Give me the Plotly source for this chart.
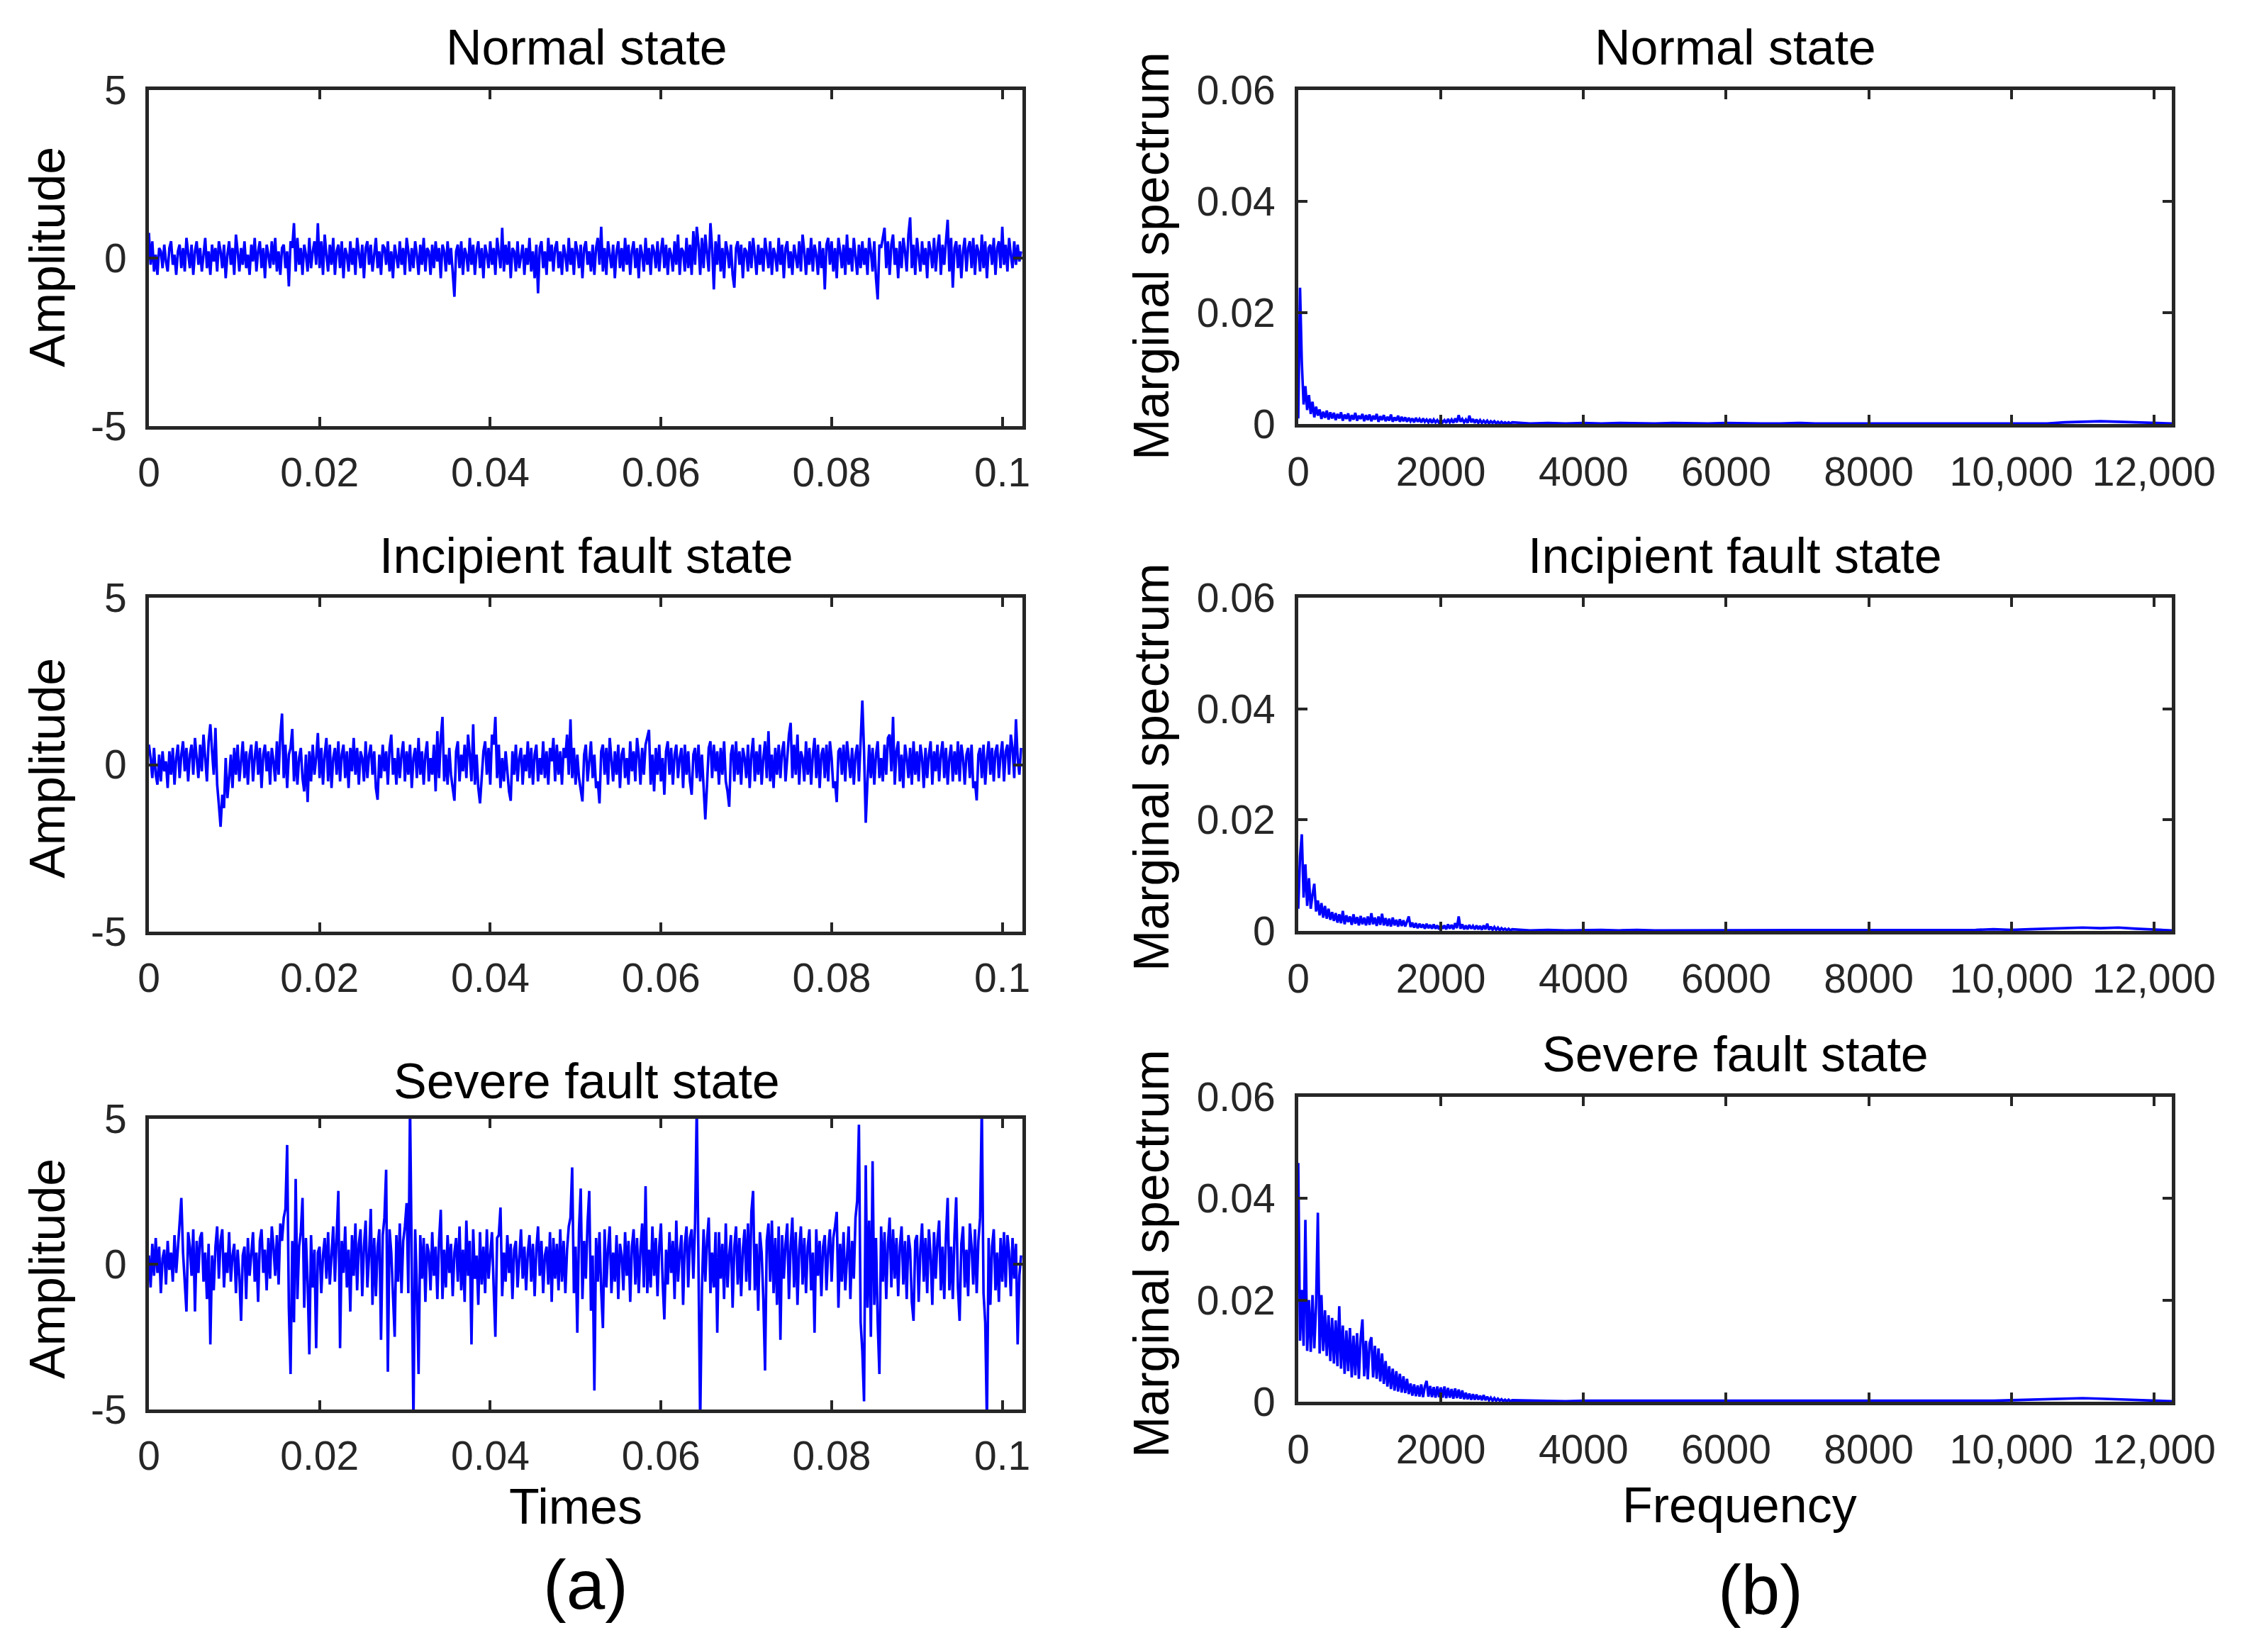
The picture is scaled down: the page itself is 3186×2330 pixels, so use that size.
import numpy as np
import plotly.graph_objects as go

# ---------------- data ----------------
DT = 0.0002           # sample spacing of the time signals (s)
DF_LOW = 25           # spectrum bin spacing below 3000 Hz
DF_HIGH = 250         # spectrum bin spacing above 3000 Hz
F_SPLIT = 3000

normal_signal = [
    0.75,-0.2,0.5,-0.4,0.1,-0.5,0.3,0.2,-0.3,0.4,-0.1,-0.4,0.3,0.5,-0.2,0.1,-0.5,0.2,0.4,-0.3,
    0.3,-0.4,0.6,0.1,-0.3,0.4,-0.5,0.2,0.5,-0.2,0.3,-0.4,0.1,0.6,-0.3,0.2,-0.5,0.4,-0.1,0.3,
    -0.4,0.5,0.2,-0.3,0.4,-0.6,0.1,0.5,-0.2,0.3,-0.5,0.7,0.2,-0.4,0.3,-0.2,0.5,-0.3,0.1,-0.5,
    0.4,-0.1,0.6,-0.4,0.2,0.5,-0.3,0.3,-0.6,0.4,0.1,-0.3,0.5,-0.2,0.6,-0.4,0.2,-0.5,0.3,0.4,
    -0.3,0.2,-0.84,0.5,0.3,1.04,-0.4,0.6,-0.2,0.3,-0.5,0.4,0.1,-0.4,0.6,-0.3,0.2,0.5,-0.2,1.04,
    -0.3,0.5,-0.5,0.7,0.1,-0.4,0.4,-0.2,0.6,-0.5,0.2,0.4,-0.3,0.5,-0.6,0.3,0.1,-0.4,0.5,-0.2,
    0.3,-0.5,0.6,0.2,-0.3,0.4,-0.6,0.3,0.5,-0.2,0.4,-0.4,0.1,0.6,-0.3,0.2,-0.5,0.4,0.3,-0.2,
    0.5,-0.4,0.2,-0.6,0.4,0.1,-0.3,0.5,-0.2,0.3,-0.5,0.6,0.2,-0.4,0.3,-0.3,0.5,0.1,-0.5,0.4,
    -0.2,0.6,-0.4,0.3,0.2,-0.5,0.4,-0.3,0.5,-0.1,0.3,-0.6,0.4,0.2,-0.4,0.5,-0.2,0.3,-0.5,-1.15,
    0.2,0.4,-0.3,0.5,-0.5,0.3,0.1,-0.4,0.6,-0.2,0.4,-0.5,0.2,0.5,-0.3,0.3,-0.6,0.4,0.1,-0.3,
    0.5,-0.2,0.3,-0.5,0.6,0.2,-0.3,0.9,-0.4,0.4,-0.2,0.5,-0.6,0.3,0.2,-0.4,0.5,-0.3,0.1,0.4,
    -0.5,0.3,-0.2,0.6,-0.4,0.2,-0.6,0.4,-1.05,0.3,0.5,-0.3,0.2,-0.5,0.6,-0.1,0.4,-0.4,0.3,0.5,
    -0.3,0.2,-0.5,0.4,0.1,-0.4,0.6,-0.2,0.3,-0.5,0.5,0.2,-0.3,0.4,-0.6,0.3,0.5,-0.2,0.2,-0.4,
    0.4,-0.5,0.3,0.6,-0.2,0.93,-0.4,0.3,-0.5,0.5,0.1,-0.3,0.4,-0.6,0.2,0.5,-0.3,0.3,-0.4,0.6,
    -0.2,0.4,-0.5,0.2,0.5,-0.3,0.3,-0.6,0.4,0.1,-0.4,0.6,-0.2,0.3,-0.5,0.4,0.2,-0.3,0.5,-0.4,
    0.2,0.6,-0.3,0.4,-0.5,0.3,0.1,-0.4,0.5,-0.2,0.7,-0.5,0.3,0.2,-0.4,0.6,-0.3,0.4,-0.5,0.8,
    -0.2,0.93,0.4,-0.5,0.6,-0.3,0.7,0.2,-0.4,1.04,0.3,-0.93,0.5,-0.2,0.7,-0.4,0.3,-0.6,0.5,0.2,
    -0.3,0.4,-0.5,-0.88,0.3,0.5,-0.2,0.4,-0.6,0.3,0.2,-0.4,0.5,-0.3,0.6,0.1,-0.5,0.4,-0.2,0.3,
    -0.4,0.6,0.2,-0.3,0.5,-0.5,0.3,0.1,-0.4,0.6,-0.2,0.4,-0.6,0.3,0.5,-0.3,0.2,-0.5,0.4,0.1,
    -0.3,0.5,-0.4,0.7,0.2,-0.5,0.3,-0.2,0.6,-0.4,0.4,0.1,-0.5,0.5,-0.3,0.3,-0.93,0.4,0.6,-0.2,
    0.5,-0.4,0.3,-0.6,0.6,0.2,-0.3,0.4,-0.5,0.7,-0.2,0.3,-0.4,0.6,0.1,-0.5,0.4,-0.3,0.5,-0.2,
    0.3,-0.5,0.6,0.2,-0.4,0.5,-0.6,-1.23,0.4,0.3,0.6,0.9,-0.3,0.5,-0.5,0.4,0.7,-0.2,0.3,-0.6,
    0.5,-0.3,0.6,0.2,-0.4,0.7,1.21,-0.3,0.4,-0.5,0.6,0.1,-0.4,0.5,-0.2,0.3,-0.6,0.5,0.2,-0.3,
    0.6,-0.4,0.3,0.7,-0.5,0.4,-0.2,0.5,1.14,-0.4,0.6,-0.88,0.3,0.5,-0.3,0.4,-0.6,0.2,0.6,-0.4,
    0.3,0.5,-0.3,0.6,-0.5,0.4,0.2,-0.4,0.7,-0.3,0.5,-0.6,0.3,0.4,-0.2,0.6,-0.5,0.3,0.5,-0.3,
    0.93,-0.2,0.4,-0.4,0.6,0.1,-0.3,0.5,-0.2,0.4,-0.1,0.2,
]

incipient_signal = [
    0.6,0.2,-0.4,0.5,-0.3,-0.6,0.3,-0.5,0.4,-0.2,0.1,-0.7,0.4,-0.3,0.5,-0.6,0.2,0.6,-0.4,0.3,
    0.7,-0.2,0.5,-0.5,0.3,0.6,-0.3,0.8,0.2,-0.4,0.6,-0.2,0.9,0.3,-0.5,0.7,1.21,0.4,-0.3,1.1,
    -0.6,-1.2,-1.86,-0.9,-1.3,0.2,-1.0,-0.4,0.3,-0.7,0.5,-0.3,0.6,-0.5,0.2,0.7,-0.4,0.4,-0.6,0.3,
    0.6,-0.5,0.2,0.7,-0.3,0.5,-0.7,0.3,0.6,-0.2,0.4,-0.6,0.5,0.1,-0.5,0.7,-0.3,0.9,1.53,-0.4,
    0.6,-0.7,0.3,0.5,1.07,-0.5,0.4,-0.6,0.2,0.5,-0.4,-0.8,0.3,-1.12,0.4,-0.5,0.6,-0.3,0.2,0.95,
    -0.4,0.5,-0.6,0.3,0.8,-0.5,0.6,-0.7,0.2,0.5,-0.3,0.7,-0.5,0.3,0.6,-0.4,0.4,-0.7,0.5,-0.2,
    0.8,-0.3,0.5,-0.6,0.4,0.2,-0.5,0.7,-0.4,0.3,0.6,-0.3,0.4,-0.7,-1.05,0.3,-0.4,0.6,-0.2,0.4,
    -0.6,0.5,0.9,-0.3,0.2,-0.6,0.5,-0.4,0.3,0.7,-0.5,0.4,-0.3,0.6,-0.7,0.2,0.5,-0.4,0.8,-0.3,
    0.4,-0.6,0.3,0.7,-0.5,0.2,-0.3,0.6,-0.8,1.0,-0.4,0.8,1.43,-0.5,0.3,-0.6,0.5,-0.3,-0.7,-1.08,
    0.4,0.7,-0.5,0.3,-0.2,0.6,-0.4,0.9,0.3,-0.5,1.21,-0.6,0.3,-0.7,-1.16,-0.5,0.4,0.7,-0.3,0.5,
    -0.6,0.9,0.6,1.43,-0.4,0.6,-0.7,0.2,-0.5,0.4,-0.3,-0.8,-1.08,0.4,-0.3,0.6,-0.5,0.2,0.5,-0.6,
    0.3,-0.2,0.7,-0.4,0.5,-0.6,0.3,0.6,-0.5,0.2,-0.3,0.7,-0.4,0.4,-0.6,0.5,0.1,0.8,-0.5,0.6,
    -0.3,0.4,-0.6,0.5,0.2,0.9,-0.3,1.36,-0.4,0.5,-0.6,0.3,-0.4,-0.7,-1.1,0.3,0.6,-0.5,0.2,0.7,
    -0.4,0.3,-0.7,-0.5,-1.16,0.4,0.6,-0.3,0.5,-0.6,0.8,0.2,-0.5,0.4,-0.3,0.6,-0.7,0.3,0.5,-0.4,
    0.2,-0.6,0.7,-0.2,0.4,-0.5,0.8,0.3,-0.6,0.5,-0.3,0.6,0.8,1.04,-0.6,0.3,-0.8,0.5,-0.3,0.6,
    -0.5,0.2,-0.9,0.4,0.7,-0.3,0.5,-0.6,0.3,0.6,-0.4,0.2,0.5,-0.7,0.6,-0.3,0.4,-0.5,-0.9,0.3,
    0.5,-0.4,0.6,-0.5,0.3,-0.8,-1.64,-0.6,0.5,0.7,-0.4,0.6,-0.2,0.4,-0.6,0.5,-0.3,0.7,-0.5,-0.8,
    -1.26,0.3,0.6,-0.5,0.7,-0.3,0.4,-0.6,0.5,0.2,-0.4,0.6,-0.7,0.3,0.8,-0.5,0.4,-0.3,0.6,-0.6,
    0.2,0.7,-0.4,1.0,-0.5,0.3,-0.7,0.5,-0.3,0.6,-0.4,0.4,0.7,-0.5,0.3,0.9,1.25,-0.4,0.6,-0.3,
    0.9,-0.6,0.4,0.2,-0.5,0.7,-0.3,0.5,-0.6,0.3,0.8,-0.4,0.6,-0.7,0.3,0.5,-0.4,0.6,-0.5,0.7,
    0.2,-0.7,-0.5,-1.12,0.4,0.5,-0.3,0.6,-0.5,0.7,0.2,-0.4,0.5,-0.6,0.3,0.6,-0.5,0.9,1.92,0.4,
    -1.74,-0.5,0.6,-0.4,0.5,-0.6,0.3,0.7,-0.4,0.2,-0.5,0.6,-0.3,0.8,0.9,-0.2,1.43,-0.6,0.4,0.7,
    -0.5,0.3,-0.7,0.6,0.2,-0.4,0.5,-0.6,0.7,-0.3,0.4,-0.5,0.6,0.2,-0.7,0.5,-0.4,0.3,0.7,-0.6,
    0.4,-0.2,0.6,-0.5,0.3,0.7,-0.4,0.5,-0.6,0.2,0.6,-0.5,0.4,-0.3,0.7,-0.5,0.6,0.2,-0.6,0.3,
    0.5,-0.4,0.6,-0.7,-0.5,-1.07,0.3,0.5,-0.4,0.6,-0.6,0.2,0.7,-0.3,0.5,-0.5,0.4,0.6,-0.4,0.3,
    0.7,-0.5,0.4,0.6,-0.3,0.9,0.5,-0.4,1.36,0.2,-0.3,0.5,
]

severe_signal = [
    0.3,-0.8,0.7,-0.4,0.9,-0.3,0.6,-1.0,0.2,0.5,-0.7,0.8,-0.2,0.4,-0.6,1.0,-0.3,0.6,1.2,2.28,
    0.4,-0.5,-1.63,1.1,0.6,-0.4,1.2,-1.63,0.8,-0.3,0.9,1.1,-0.6,0.4,-1.2,0.7,-2.76,0.3,-0.9,0.6,
    1.3,-0.5,0.8,1.2,-0.8,0.4,-0.3,1.1,-0.6,0.3,0.7,-1.0,0.5,-0.4,-1.95,0.3,0.6,-1.2,0.9,-0.4,
    0.5,1.1,-0.6,0.4,-1.3,0.8,1.2,-0.3,0.5,-0.9,0.9,-0.5,1.3,0.6,-0.4,1.0,-0.7,1.4,0.8,1.6,
    1.9,4.1,-1.5,-3.78,0.8,-2.0,2.93,-1.2,0.6,1.1,2.28,-1.5,0.9,-0.6,-3.1,1.0,-0.8,0.5,-2.89,0.4,
    0.6,-1.0,0.3,0.9,-0.5,1.1,-0.7,0.4,1.3,-0.6,0.9,2.52,-2.89,0.8,-0.3,1.3,-0.8,0.5,-1.63,1.0,
    -0.4,1.4,-0.9,0.7,1.2,-1.1,0.6,1.5,-0.8,0.3,1.9,-1.4,0.9,-1.1,0.6,1.2,-2.6,1.0,1.6,3.25,
    -3.7,1.2,0.4,-1.0,-2.5,1.0,-0.6,1.4,-1.0,0.8,1.3,2.1,-1.0,5.5,0.6,-5.5,1.2,-0.8,-3.78,1.0,
    -0.5,0.9,-1.3,0.7,0.4,-0.9,1.1,-0.4,0.6,-1.2,0.8,1.87,-1.2,0.5,-0.8,1.0,-0.3,0.7,-1.1,0.4,
    0.9,-0.6,1.3,-0.9,0.5,-1.3,1.5,-0.4,0.8,-2.76,1.2,-0.5,0.3,-1.4,1.1,-0.7,0.6,-1.0,1.2,-0.5,
    0.3,1.1,-0.8,-2.5,0.9,1.0,1.95,-1.1,0.4,-0.6,1.0,-0.3,0.7,-1.2,0.5,0.8,-0.8,0.3,1.2,-0.5,
    0.6,-0.9,0.4,1.0,-0.6,0.7,-1.1,0.5,1.3,-0.4,0.8,-1.0,0.3,0.6,-0.7,1.1,-1.3,0.9,-0.5,0.7,
    -0.9,1.2,-0.6,0.8,-1.0,0.5,1.3,1.6,3.33,-1.0,0.6,-2.36,1.2,2.6,-1.2,0.8,-0.5,1.4,2.52,-1.6,
    0.3,-4.35,0.9,-0.6,1.1,-0.9,-2.2,1.2,-0.8,0.5,1.3,-1.0,0.4,-0.6,1.0,-1.2,0.7,0.3,-0.9,1.1,
    -0.4,0.8,-1.3,0.6,1.2,-0.7,0.9,-1.0,0.5,1.4,-0.8,2.68,-1.0,0.5,-0.8,1.3,-0.4,0.9,-1.1,0.6,
    1.4,-0.6,-1.9,0.5,-0.7,1.1,-0.3,0.8,-1.2,1.5,-0.6,0.4,1.0,-1.4,0.7,1.3,-0.8,0.9,1.2,-0.5,
    1.4,5.5,-1.2,-5.5,-0.9,1.2,-0.6,0.8,1.6,-1.0,0.4,-0.8,1.1,-2.36,1.1,-0.5,0.7,-1.2,1.4,-0.8,
    0.3,1.0,-1.5,0.6,1.3,-0.7,0.9,-1.1,0.5,1.2,-0.6,1.4,-0.9,1.8,2.52,-0.9,0.7,-1.6,1.1,0.4,
    -1.2,-3.66,0.8,1.4,-0.6,1.5,-1.0,0.9,-1.4,1.3,-2.6,1.0,-0.5,0.7,1.4,-1.2,0.6,1.6,-0.8,1.1,
    -1.4,0.5,1.3,-0.7,0.9,-1.0,0.6,1.2,-0.9,0.4,-2.36,1.2,-0.4,0.8,-1.1,0.6,1.0,-0.9,0.5,1.2,
    -0.6,0.9,1.3,1.8,-1.5,0.7,-0.6,1.1,-0.9,0.4,1.3,-1.2,0.8,-0.5,1.6,2.2,4.8,-2.0,-3.0,-4.72,
    3.4,-1.5,1.5,-2.5,3.54,-1.4,0.9,-2.0,-3.78,1.3,-0.6,1.1,-1.2,0.7,1.6,-0.8,1.2,-0.5,0.9,-1.1,
    0.6,1.3,-0.7,0.8,-1.2,1.0,0.5,-1.3,-1.95,0.8,1.0,-1.3,0.5,1.4,-0.6,0.9,-1.0,1.2,0.3,-1.4,
    1.1,-0.5,0.8,1.5,-0.9,0.6,-1.2,1.0,2.28,-0.9,0.6,-1.2,1.0,2.3,-0.8,-1.95,0.7,1.3,-0.8,0.5,
    -1.1,1.4,0.6,-0.7,1.2,-1.0,0.8,1.6,5.5,-1.0,-2.0,-5.5,0.9,-1.4,0.6,1.2,-0.9,0.4,-1.3,0.9,
    -0.6,1.1,-0.8,1.0,0.4,-1.1,0.9,-0.5,0.7,-2.76,-0.4,0.3,
]

# marginal spectra: values on the 0..2975 Hz grid, then on the 3000..12250 Hz grid
normal_spec_low = [
    0.001,0.0245,0.011,0.0035,0.0068,0.0025,0.0052,0.0018,0.0040,0.0012,0.0031,0.0015,0.0026,0.0009,0.0022,0.0011,0.0024,0.0008,0.0021,0.0010,
    0.0020,0.0007,0.0018,0.0010,0.0021,0.0006,0.0017,0.0009,0.0019,0.0005,0.0016,0.0008,0.0020,0.0006,0.0015,0.0009,0.0018,0.0005,0.0016,0.0007,
    0.0017,0.0005,0.0015,0.0008,0.0018,0.0004,0.0014,0.0007,0.0016,0.0005,0.0013,0.0006,0.0017,0.0004,0.0012,0.0006,0.0015,0.0004,0.0013,0.0005,
    0.0012,0.0004,0.0011,0.0005,0.0010,0.0003,0.0011,0.0004,0.0009,0.0003,0.0010,0.0004,0.0008,0.0003,0.0009,0.0002,0.0008,0.0003,0.0007,0.0002,
    0.0008,0.0003,0.0007,0.0002,0.0009,0.0003,0.0008,0.0002,0.0010,0.0003,0.0016,0.0004,0.0009,0.0003,0.0008,0.0002,0.0015,0.0003,0.0009,0.0002,
    0.0008,0.0002,0.0007,0.0002,0.0006,0.0002,0.0006,0.0001,0.0005,0.0002,0.0005,0.0001,0.0004,0.0001,0.0004,0.0001,0.0003,0.0001,0.0003,0.0001,
]
normal_spec_high = [
    0.0003,0.0001,0.0002,0.0001,0.0002,0.0001,0.0002,0.0001,0.0001,0.0002,
    0.0001,0.0001,0.0002,0.0001,0.0001,0.0001,0.0002,0.0001,0.0001,0.0001,
    0.0002,0.0001,0.0001,0.0001,0.0001,0.0002,0.0001,0.0001,0.0001,0.0002,
    0.0001,0.0003,0.0004,0.0005,0.0004,0.0003,0.0002,0.0001,
]

incipient_spec_low = [
    0.004,0.0134,0.0174,0.0060,0.0120,0.0045,0.0095,0.0040,0.0065,0.0085,0.0035,0.0055,0.0028,0.0050,0.0024,0.0045,0.0022,0.0040,0.0020,0.0034,
    0.0018,0.0032,0.0015,0.0030,0.0014,0.0036,0.0012,0.0028,0.0016,0.0026,0.0011,0.0030,0.0013,0.0025,0.0010,0.0027,0.0012,0.0024,0.0010,0.0026,
    0.0011,0.0032,0.0012,0.0024,0.0009,0.0026,0.0011,0.0031,0.0010,0.0023,0.0009,0.0022,0.0008,0.0024,0.0010,0.0020,0.0008,0.0021,0.0009,0.0019,
    0.0008,0.0018,0.0026,0.0007,0.0015,0.0006,0.0014,0.0005,0.0013,0.0006,0.0012,0.0004,0.0013,0.0005,0.0011,0.0004,0.0012,0.0004,0.0010,0.0003,
    0.0011,0.0004,0.0010,0.0003,0.0012,0.0004,0.0011,0.0003,0.0014,0.0005,0.0026,0.0004,0.0012,0.0003,0.0010,0.0003,0.0011,0.0004,0.0009,0.0003,
    0.0010,0.0003,0.0009,0.0002,0.0010,0.0003,0.0013,0.0002,0.0008,0.0002,0.0007,0.0002,0.0006,0.0001,0.0005,0.0002,0.0004,0.0001,0.0004,0.0001,
]
incipient_spec_high = [
    0.0003,0.0001,0.0002,0.0001,0.0002,0.0002,0.0001,0.0002,0.0001,0.0001,
    0.0002,0.0001,0.0002,0.0001,0.0001,0.0002,0.0001,0.0001,0.0002,0.0001,
    0.0001,0.0002,0.0001,0.0001,0.0002,0.0001,0.0002,0.0003,0.0002,0.0003,
    0.0004,0.0005,0.0006,0.0005,0.0006,0.0004,0.0002,0.0001,
]

severe_spec_low = [
    0.047,0.012,0.022,0.011,0.0358,0.010,0.020,0.0098,0.021,0.0105,0.019,0.0372,0.0095,0.0210,0.0100,0.0180,0.0090,0.0170,0.0080,0.0165,
    0.0075,0.0160,0.0070,0.0188,0.0065,0.0150,0.0055,0.0140,0.0060,0.0145,0.0048,0.0130,0.0052,0.0135,0.0045,0.0125,0.0162,0.0050,0.0120,0.0044,
    0.0115,0.0127,0.0048,0.0110,0.0045,0.0105,0.0040,0.0095,0.0035,0.0080,0.0030,0.0070,0.0025,0.0065,0.0022,0.0060,0.0020,0.0055,0.0018,0.0050,
    0.0017,0.0045,0.0015,0.0036,0.0012,0.0034,0.0011,0.0032,0.0010,0.0034,0.0009,0.0030,0.0041,0.0010,0.0031,0.0009,0.0029,0.0008,0.0030,0.0009,
    0.0028,0.0008,0.0030,0.0007,0.0027,0.0008,0.0025,0.0006,0.0026,0.0007,0.0024,0.0006,0.0022,0.0005,0.0018,0.0005,0.0016,0.0004,0.0015,0.0004,
    0.0014,0.0004,0.0012,0.0003,0.0013,0.0003,0.0010,0.0003,0.0008,0.0002,0.0007,0.0002,0.0006,0.0002,0.0005,0.0001,0.0004,0.0001,0.0004,0.0001,
]
severe_spec_high = [
    0.0003,0.0002,0.0002,0.0001,0.0002,0.0002,0.0001,0.0002,0.0001,0.0002,
    0.0001,0.0001,0.0002,0.0001,0.0001,0.0002,0.0001,0.0001,0.0002,0.0001,
    0.0001,0.0002,0.0001,0.0001,0.0002,0.0001,0.0002,0.0002,0.0003,0.0004,
    0.0005,0.0006,0.0007,0.0006,0.0005,0.0004,0.0002,0.0001,
]

panel_titles = ["Normal state", "Incipient fault state", "Severe fault state"]
time_ticks = [0, 0.02, 0.04, 0.06, 0.08, 0.1]
time_tick_text = ["0", "0.02", "0.04", "0.06", "0.08", "0.1"]
amp_ticks = [-5, 0, 5]
amp_tick_text = ["-5", "0", "5"]
freq_ticks = [0, 2000, 4000, 6000, 8000, 10000, 12000]
freq_tick_text = ["0", "2000", "4000", "6000", "8000", "10,000", "12,000"]
spec_ticks = [0, 0.02, 0.04, 0.06]
spec_tick_text = ["0", "0.02", "0.04", "0.06"]

# ---------------- figure ----------------
W, H = 3186, 2330
FONT = "Liberation Sans, Arial, Helvetica, sans-serif"
INK = "#262626"
BLUE = "#0000FF"


def px_x(p):
    return p / W


def px_y(p):
    return 1 - p / H


signals = [normal_signal, incipient_signal, severe_signal]
spectra = [(normal_spec_low, normal_spec_high),
           (incipient_spec_low, incipient_spec_high),
           (severe_spec_low, severe_spec_high)]

fig = go.Figure()

for k, sig in enumerate(signals):
    t = np.arange(len(sig)) * DT
    fig.add_trace(go.Scatter(x=t, y=sig, mode="lines",
                             line=dict(color=BLUE, width=3.6),
                             xaxis=f"x{k+1}", yaxis=f"y{k+1}", showlegend=False,
                             hoverinfo="skip"))

for k, (lo, hi) in enumerate(spectra):
    f = np.concatenate([np.arange(len(lo)) * DF_LOW,
                        F_SPLIT + np.arange(len(hi)) * DF_HIGH])
    v = np.concatenate([lo, hi])
    fig.add_trace(go.Scatter(x=f, y=v, mode="lines",
                             line=dict(color=BLUE, width=3.6),
                             xaxis=f"x{k+4}", yaxis=f"y{k+4}", showlegend=False,
                             hoverinfo="skip"))

left_x = (210, 1442)
right_x = (1831, 3063)
left_rows = [(127, 601), (843, 1314), (1578, 1988)]
right_rows = [(127, 598), (843, 1313), (1547, 1977)]

common = dict(showline=True, linewidth=5, linecolor=INK, mirror="ticks",
              ticks="inside", ticklen=13, tickwidth=4, tickcolor=INK,
              showgrid=False, zeroline=False, automargin=False,
              tickfont=dict(family=FONT, size=57, color=INK))

layout = dict(template="none", width=W, height=H, autosize=False,
              margin=dict(l=0, r=0, t=0, b=0, pad=0, autoexpand=False),
              paper_bgcolor="white", plot_bgcolor="white",
              font=dict(family=FONT, color=INK), showlegend=False)

for k in range(3):
    top, bot = left_rows[k]
    layout[f"xaxis{k+1}"] = dict(common, domain=[px_x(left_x[0]), px_x(left_x[1])],
                                 range=[0, 0.10236], anchor=f"y{k+1}",
                                 tickvals=time_ticks, ticktext=time_tick_text,
                                 ticklabelstandoff=12)
    layout[f"yaxis{k+1}"] = dict(common, domain=[px_y(bot), px_y(top)],
                                 range=[-5, 5], anchor=f"x{k+1}",
                                 tickvals=amp_ticks, ticktext=amp_tick_text,
                                 ticklabelstandoff=15)
    top, bot = right_rows[k]
    layout[f"xaxis{k+4}"] = dict(common, domain=[px_x(right_x[0]), px_x(right_x[1])],
                                 range=[0, 12250], anchor=f"y{k+4}",
                                 tickvals=freq_ticks, ticktext=freq_tick_text,
                                 ticklabelstandoff=14)
    layout[f"yaxis{k+4}"] = dict(common, domain=[px_y(bot), px_y(top)],
                                 range=[0, 0.06], anchor=f"x{k+4}",
                                 tickvals=spec_ticks, ticktext=spec_tick_text,
                                 ticklabelstandoff=16)

fig.update_layout(**layout)

ann = []


def add_text(text, x, y, size, angle=0):
    ann.append(dict(text=text, x=px_x(x), y=px_y(y), xref="paper", yref="paper",
                    xanchor="center", yanchor="middle", showarrow=False,
                    textangle=angle, font=dict(family=FONT, size=size, color="black")))


left_title_y = [67, 784, 1525]
right_title_y = [67, 784, 1487]
for k in range(3):
    add_text(panel_titles[k], 827, left_title_y[k], 70)
    add_text(panel_titles[k], 2447, right_title_y[k], 70)

amp_label_y = [363, 1084, 1790]
spec_label_y = [361, 1082, 1768]
for k in range(3):
    add_text("Amplitude", 67, amp_label_y[k], 70, -90)
    add_text("Marginal spectrum", 1624, spec_label_y[k], 70, -90)

add_text("Times", 812, 2125, 70)
add_text("Frequency", 2453, 2123, 70)
add_text("(a)", 826, 2235, 98)
add_text("(b)", 2483, 2242, 98)

fig.update_layout(annotations=ann)

fig.write_html("out.html",
               config={"displayModeBar": False, "staticPlot": True},
               post_script="document.body.style.margin='0px';document.body.style.overflow='hidden';")
